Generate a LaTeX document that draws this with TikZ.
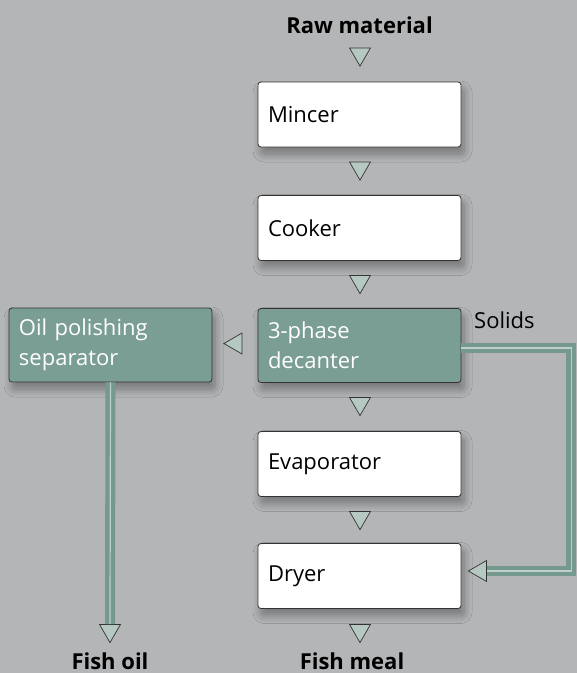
\documentclass[tikz,border=0pt]{standalone}
\usepackage{fontspec}
\setmainfont{Open Sans}
\usetikzlibrary{shapes.geometric,calc,shadows.blur}

\definecolor{bggray}{HTML}{B4B5B7}
\definecolor{decteal}{HTML}{7A9E94}
\definecolor{tripale}{HTML}{B5C8C1}
\definecolor{pipeteal}{HTML}{76998F}
\definecolor{pipelight}{HTML}{BFD0CA}

\tikzset{
  procbox/.style={rectangle, draw=black!80, line width=0.8pt, rounded corners=3pt,
    fill=white, text width=183pt, inner xsep=10pt, minimum height=65pt, align=left,
    font=\fontsize{22}{30}\selectfont,
    blur shadow={shadow xshift=3pt, shadow yshift=-7pt, shadow blur radius=8pt,
      shadow blur steps=12, shadow opacity=35}},
  tealbox/.style={procbox, fill=decteal, text=white, minimum height=74pt},
  flowtri/.style={regular polygon, regular polygon sides=3, draw=black!80,
    fill=tripale, minimum size=24.2pt, inner sep=0pt, line width=0.7pt},
  tridown/.style={flowtri, shape border rotate=180, yshift=3pt},
  trileft/.style={flowtri, shape border rotate=90, xshift=3pt},
  pipe/.style={draw=pipeteal, line width=10pt, postaction={draw=pipelight, line width=1.2pt}},
  endlabel/.style={font=\fontsize{22}{26}\selectfont\bfseries, anchor=base, inner sep=0pt}
}

\begin{document}
\begin{tikzpicture}[x=1pt,y=-1pt]
  \useasboundingbox (0,0) rectangle (577,673);
  \fill[bggray] (0,0) rectangle (577,673);

  \path (359.5,114.5) node[procbox] (mincer){Mincer}
        (359.5,228) node[procbox] (cooker){Cooker}
        (359.5,345.5) node[tealbox] (decanter){3-phase\\decanter}
        (359.5,464) node[procbox] (evaporator){Evaporator}
        (359.5,576) node[procbox] (dryer){Dryer}
        (110.5,345) node[tealbox] (polisher){Oil polishing\\separator};

  \path (359.5,33) node[endlabel] (raw){Raw material}
        (110,669) node[endlabel] (fishoil){Fish oil}
        (352,669) node[endlabel] (fishmeal){Fish meal}
        (474,328) node[anchor=base west, inner sep=0pt, font=\fontsize{22}{26}\selectfont] (solids){Solids};

  \path (360,57) node[tridown] (traw){}
        (360,171) node[tridown] (tmincer){}
        (360,284.5) node[tridown] (tcooker){}
        (360,406.5) node[tridown] (tdecanter){}
        (360,520.5) node[tridown] (tevaporator){}
        (360,633.5) node[tridown] (tdryer){}
        (233,343.5) node[trileft] (toil){}
        (477.5,571) node[trileft] (tsolids){}
        (110,633.5) node[tridown] (tfishoil){};

  \draw[pipe] ([yshift=-2.5pt]decanter.east) -- ++(110,0) |- (tsolids.east);
  \draw[pipe] (polisher.south) -- (tfishoil.north);
\end{tikzpicture}
\end{document}
